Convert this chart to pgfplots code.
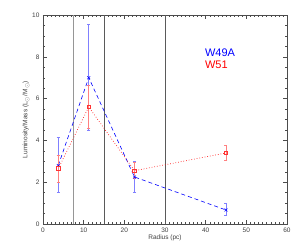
\documentclass[border=0pt]{standalone}
\usepackage{fontspec}
\setmainfont{Liberation Sans}
\usepackage{pgfplots}
\pgfplotsset{compat=1.18}
\definecolor{vlight}{RGB}{150,150,150}
\definecolor{vdark}{RGB}{90,90,90}
\begin{document}
\begin{tikzpicture}
\path[use as bounding box] (-43pt,-26pt) rectangle (257pt,224pt);
\begin{axis}[
  at={(0,0)}, anchor=south west,
  scale only axis, width=244pt, height=209pt,
  xmin=0, xmax=60, ymin=0, ymax=10,
  xtick={0,10,...,60}, ytick={0,2,...,10},
  minor x tick num=9, minor y tick num=3,
  tick align=inside, tick pos=both,
  major tick length=4pt, minor tick length=2pt,
  axis line style={black!70, line width=0.6pt},
  every tick/.style={black!70, line width=0.4pt},
  tick label style={font=\fontsize{6.5}{7}\selectfont, text=black!75},
  /pgf/number format/assume math mode=true,
  xlabel={Radius (pc)}, ylabel={Luminosity/Mass (L$_\odot$/M$_\odot$)},
  label style={font=\fontsize{6.5}{7}\selectfont, text=black!75},
  xlabel style={yshift=4pt},
  ylabel style={yshift=-4pt},
  clip=false,
]
\addplot[color=vlight, solid, mark=none, line width=0.9pt] coordinates {(7.5,0) (7.5,10)};
\addplot[color=vdark, solid, mark=none, line width=0.7pt] coordinates {(15,0) (15,10)};
\addplot[color=vdark, solid, mark=none, line width=0.7pt] coordinates {(30,0) (30,10)};
% W49A
\addplot[blue, line width=0.6pt, dash pattern=on 4pt off 3pt,
  mark=x, mark size=2pt, mark options={solid},
  error bars/.cd, y dir=both, y explicit,
  error bar style={blue!50, line width=0.9pt, solid}, error mark options={blue!50, rotate=90, mark size=1.5pt}]
  coordinates {
  (3.75,2.8) += (0,1.35) -= (0,1.3)
  (11.25,7.0) += (0,2.55) -= (0,2.5)
  (22.5,2.25) += (0,0.75) -= (0,0.75)
  (45,0.67) += (0,0.33) -= (0,0.27)
  };
% W51
\addplot[red!90, dotted, line width=0.7pt,
  mark=square, mark size=1.8pt, mark options={solid, red!80},
  error bars/.cd, y dir=both, y explicit,
  error bar style={red!50, line width=0.9pt, solid}, error mark options={red!50, rotate=90, mark size=1.5pt}]
  coordinates {
  (3.75,2.65) += (0,0.65) -= (0,0.65)
  (11.25,5.6) += (0,1.05) -= (0,1.0)
  (22.5,2.55) += (0,0.4) -= (0,0.35)
  (45,3.4) += (0,0.38) -= (0,0.35)
  };
\node[blue, anchor=west, font=\fontsize{11}{11}\selectfont, inner sep=0pt] at (axis cs:39.8,8.2) {W49A};
\node[red, anchor=west, font=\fontsize{11}{11}\selectfont, inner sep=0pt] at (axis cs:39.8,7.6) {W51};
\end{axis}
\end{tikzpicture}
\end{document}
